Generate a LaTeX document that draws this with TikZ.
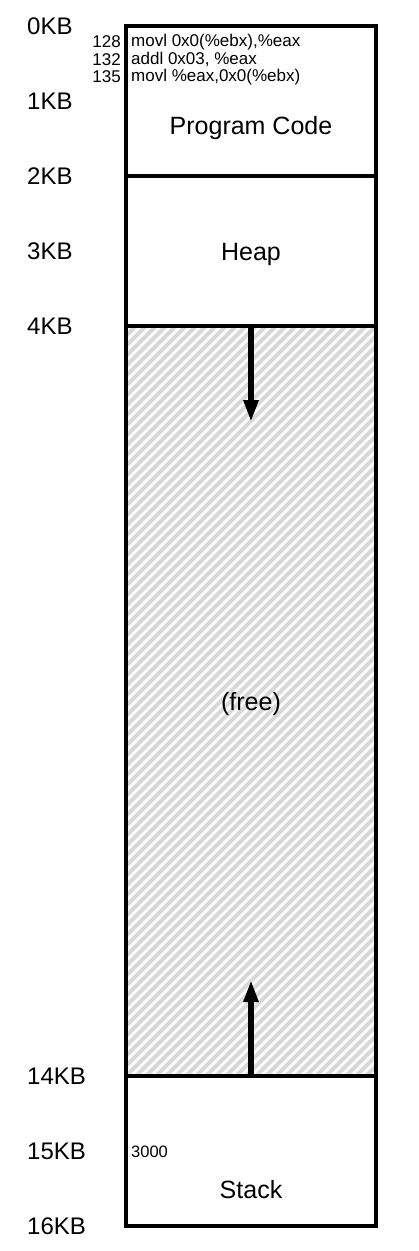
\documentclass[tikz,border=0pt]{standalone}
\usepackage{fontspec}
\setmainfont{Liberation Sans}
\usetikzlibrary{arrows.meta}
\definecolor{hatchgray}{RGB}{217,217,217}
\tikzset{
  kblabel/.style={anchor=west, inner sep=0pt, font=\fontsize{24}{26}\selectfont},
  codenum/.style={anchor=east, inner sep=0pt, font=\fontsize{17}{18}\selectfont},
  codetxt/.style={anchor=west, inner sep=0pt, font=\fontsize{17}{18}\selectfont},
  seglabel/.style={anchor=base, inner sep=0pt, font=\fontsize{25}{27}\selectfont},
  smalllabel/.style={anchor=west, inner sep=0pt, font=\fontsize{16.5}{18}\selectfont},
  boxline/.style={line width=3.3pt},
  growarrow/.style={line width=5.5pt, -{Triangle[length=22pt,width=14pt]}},
}
\begin{document}
\begin{tikzpicture}[x=1pt,y=-1pt]
\useasboundingbox (0,0) rectangle (419,1251);
% hatched free region
\begin{scope}
  \clip (126,326) rectangle (376,1076);
  \foreach \k in {-770,-760,...,260}{
    \draw[hatchgray, line width=4.2pt] (126+\k,1086) -- (126+\k+770,316);
  }
\end{scope}
% segments
\draw[boxline] (126,26) rectangle (376,1226);
\draw[boxline] (126,176) -- (376,176);
\draw[boxline] (126,326) -- (376,326);
\draw[boxline] (126,1076) -- (376,1076);
% KB labels
\foreach \k in {0,1,2,3,4,14,15,16}{
  \node[kblabel] (kb\k) at (27,{26+75*\k}) {\k KB};
}
% code
\node[codenum] (n1) at (121,42) {128};
\node[codetxt] (c1) at (131,42) {movl 0x0(\%ebx),\%eax};
\node[codenum] (n2) at (121,59.5) {132};
\node[codetxt] (c2) at (131,59.5) {addl 0x03, \%eax};
\node[codenum] (n3) at (121,77) {135};
\node[codetxt] (c3) at (131,77) {movl \%eax,0x0(\%ebx)};
% segment labels
\node[seglabel] (code) at (251,134.3) {Program Code};
\node[seglabel] (heap) at (251,260) {Heap};
\node[seglabel] (free) at (251,710) {(free)};
\node[seglabel] (stack) at (251,1198) {Stack};
\node[smalllabel] (sp) at (131,1152) {3000};
% growth arrows
\coordinate (heapend) at (251,326);
\coordinate (heaptip) at (251,422);
\coordinate (stackend) at (251,1076);
\coordinate (stacktip) at (251,980);
\draw[growarrow] (heapend) -- (heaptip);
\draw[growarrow] (stackend) -- (stacktip);
\end{tikzpicture}
\end{document}
